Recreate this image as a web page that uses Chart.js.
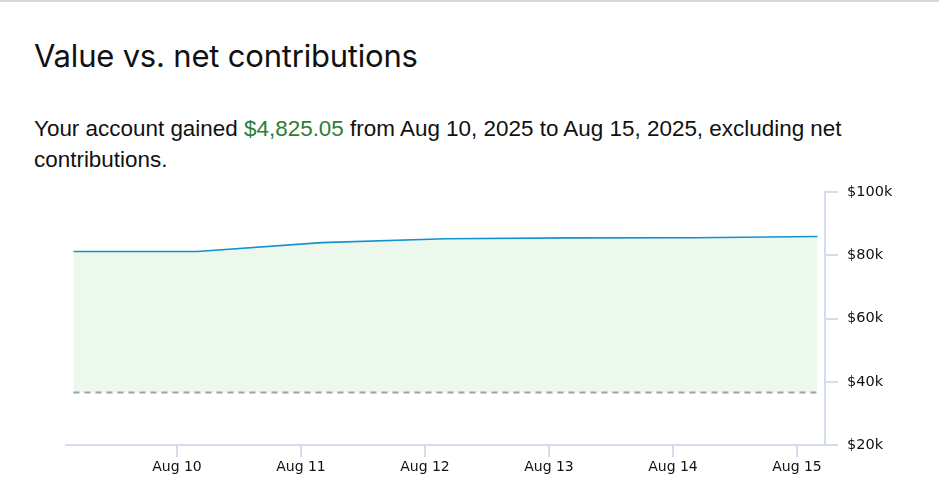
<!DOCTYPE html>
<html>
<head>
<meta charset="utf-8">
<script src="https://cdn.jsdelivr.net/npm/chart.js@4.4.1/dist/chart.umd.min.js"></script>
<style>
  html, body { margin: 0; padding: 0; background: #fff; }
  body { width: 939px; height: 495px; position: relative; overflow: hidden; border-top: 2px solid #d3d8df; box-sizing: border-box; }
  h1 { position: absolute; left: 34px; top: 36px; margin: 0; font: 400 31px/36px Inter, "Noto Sans", sans-serif; color: #111; letter-spacing: -0.2px; }
  .summary { position: absolute; left: 34px; top: 111px; width: 880px; margin: 0; font: 400 22.45px/31px "Liberation Sans", Arial, sans-serif; color: #111; }
  .gain { color: #2e7d32; }
  #wrap { position: absolute; left: 0; top: 170px; width: 939px; height: 325px; }
</style>
</head>
<body>
<h1>Value vs. net contributions</h1>
<p class="summary">Your account gained <span class="gain">$4,825.05</span> from Aug 10, 2025 to Aug 15, 2025, excluding net contributions.</p>
<div id="wrap"><canvas id="chart"></canvas></div>
<script>
// daily snapshots (day of August, taken early morning)
const pointDays = [9.165, 10.165, 11.165, 12.165, 13.165, 14.165, 15.165];
const accountValue = [81200, 81200, 84000, 85200, 85500, 85550, 85950];
const netContributions = [36600, 36600, 36600, 36600, 36600, 36600, 36600];
const tickDays = [10, 11, 12, 13, 14, 15];
const yTicks = [20000, 40000, 60000, 80000, 100000];

const axisColor = "#d4dbee";

const config = {
  type: "line",
  data: {
    datasets: [
      {
        label: "Net contributions",
        data: pointDays.map((d, i) => ({ x: d, y: netContributions[i] })),
        borderColor: "#a0a0a0",
        borderWidth: 2,
        borderDash: [6, 5],
        pointRadius: 0,
        fill: false,
      },
      {
        label: "Value",
        data: pointDays.map((d, i) => ({ x: d, y: accountValue[i] })),
        borderColor: "#1591d0",
        borderWidth: 1.6,
        pointRadius: 0,
        tension: 0,
        fill: { target: 0 },
        backgroundColor: "rgb(237, 248, 236)",
      },
    ],
  },
  options: {
    responsive: true,
    maintainAspectRatio: false,
    animation: false,
    layout: { padding: { left: 66, top: 20, right: 0, bottom: 0 } },
    plugins: { legend: { display: false }, tooltip: { enabled: false } },
    scales: {
      x: {
        type: "linear",
        min: 9.105,
        max: 15.226,
        afterBuildTicks: (scale) => {
          scale.ticks = tickDays.map((v) => ({ value: v }));
        },
        afterFit: (scale) => { scale.height = 52; },
        border: { color: axisColor, width: 2 },
        grid: { drawOnChartArea: false, color: axisColor, lineWidth: 2, tickLength: 12 },
        ticks: {
          padding: 2,
          color: "#111",
          font: { family: "DejaVu Sans", size: 14 },
          maxRotation: 0,
          callback: (v) => "Aug " + v,
        },
      },
      y: {
        position: "right",
        min: 20000,
        max: 100000,
        afterBuildTicks: (scale) => {
          scale.ticks = yTicks.map((v) => ({ value: v }));
        },
        afterFit: (scale) => { scale.width = 114; },
        border: { color: axisColor, width: 2 },
        grid: { drawOnChartArea: false, color: axisColor, lineWidth: 2, tickLength: 13 },
        ticks: {
          padding: 9,
          color: "#111",
          font: { family: "DejaVu Sans", size: 14.5 },
          callback: (v) => "$" + v / 1000 + "k",
        },
      },
    },
  },
};

const myChart = new Chart(document.getElementById("chart"), config);
</script>
</body>
</html>
